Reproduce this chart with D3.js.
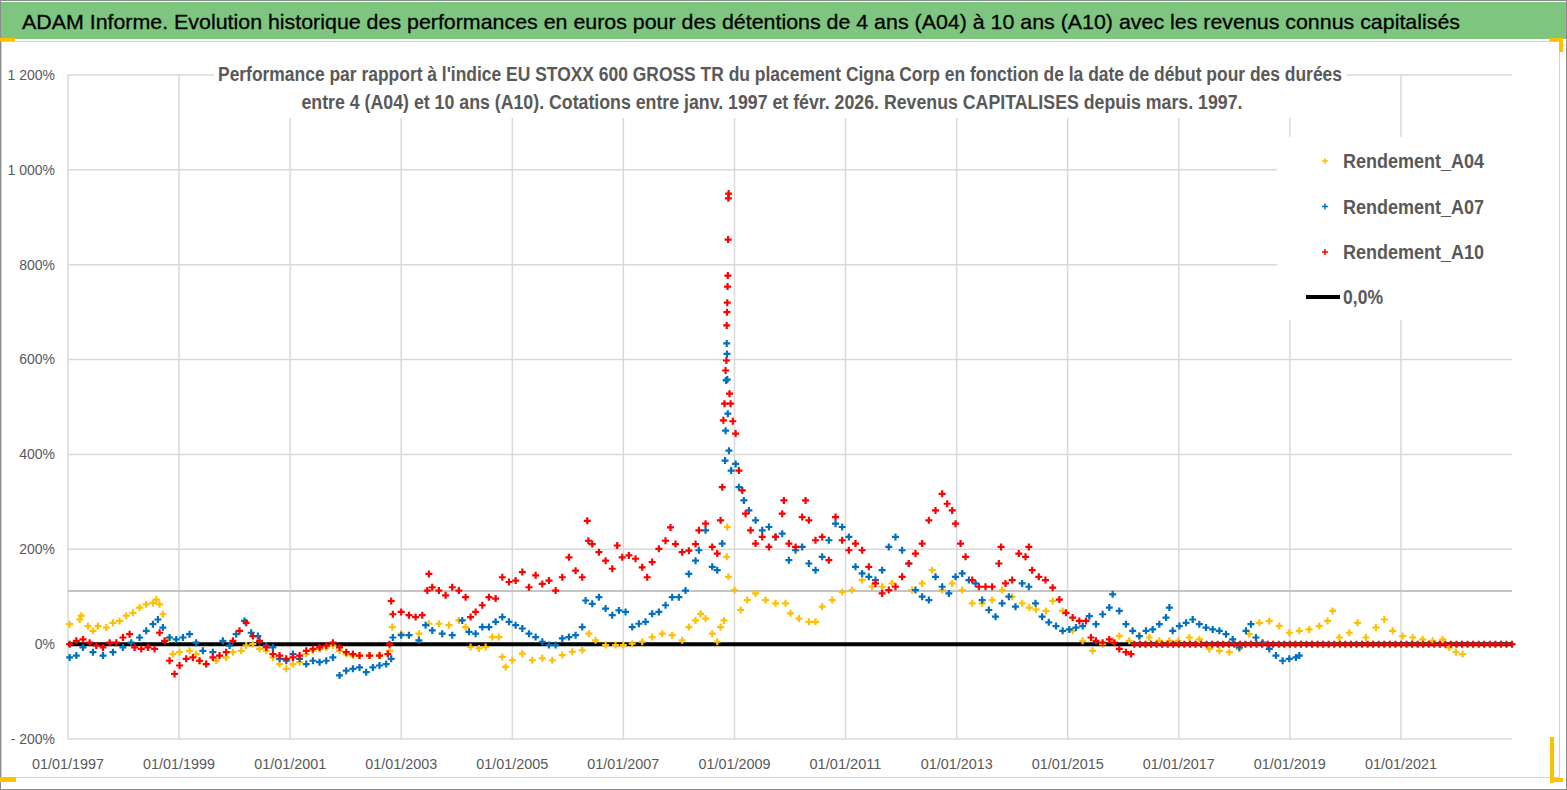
<!DOCTYPE html>
<html>
<head>
<meta charset="utf-8">
<script src="https://cdn.jsdelivr.net/npm/d3@7"></script>
<style>
body { margin: 0; background: #fff; }
text { font-family: "Liberation Sans", "DejaVu Sans", sans-serif; }
</style>
</head>
<body>
<svg id="chart" width="1567" height="790"></svg>
<script>
const TITLE = "ADAM Informe. Evolution historique des performances en euros pour des détentions de 4 ans (A04) à 10 ans (A10) avec les revenus connus capitalisés";
const SUBTITLE = [
    "Performance par rapport à l'indice EU STOXX 600 GROSS TR  du placement Cigna Corp en fonction de la date de début pour des durées",
    "entre 4 (A04) et 10 ans (A10). Cotations entre janv. 1997 et févr. 2026. Revenus CAPITALISES depuis mars. 1997."
];
const seriesNames = ["Rendement_A04", "Rendement_A07", "Rendement_A10"];
const zeroName = "0,0%";
const xTickYears = [1997, 1999, 2001, 2003, 2005, 2007, 2009, 2011, 2013, 2015, 2017, 2019, 2021];
const yTicks = [-200, 0, 200, 400, 600, 800, 1000, 1200];
const refLevel = [112];
const zeroLine = [[1997.0, 0], [2023.0, 0]];

// [année décimale, performance %]
const a04 = [
    [1997.03, 42], [1997.21, 52], [1997.24, 60], [1997.36, 38], [1997.45, 28], [1997.54, 38], [1997.69, 35],
    [1997.81, 45], [1997.93, 49], [1998.05, 60], [1998.17, 66], [1998.29, 77], [1998.41, 84], [1998.53, 87],
    [1998.59, 94], [1998.65, 84], [1998.71, 63], [1998.8, 10], [1998.89, -21], [1999.01, -17], [1999.19, -14],
    [1999.31, -21], [1999.37, -35], [1999.49, -42], [1999.67, -35], [1999.85, -28], [1999.97, -17], [2000.12, -14],
    [2000.21, -3], [2000.33, 0], [2000.45, -10], [2000.57, -14], [2000.69, -28], [2000.81, -42], [2000.93, -52],
    [2001.05, -42], [2001.17, -38], [2001.29, -21], [2001.41, -14], [2001.53, -10], [2001.65, -7], [2001.77, -3],
    [2001.89, -14], [2002.01, -21], [2002.13, -24], [2002.25, -24], [2002.43, -24], [2002.61, -24], [2002.79, -14],
    [2002.84, 36], [2003.0, 22], [2003.14, 19], [2003.32, 22], [2003.5, 43], [2003.68, 43], [2003.86, 40],
    [2004.04, 50], [2004.16, 36], [2004.25, -6], [2004.4, -9], [2004.52, -6], [2004.64, 15], [2004.76, 15],
    [2004.82, -27], [2004.88, -48], [2005.0, -34], [2005.18, -20], [2005.36, -34], [2005.54, -30], [2005.72, -34],
    [2005.9, -23], [2006.08, -16], [2006.26, -13], [2006.38, 22], [2006.5, 8], [2006.68, -2], [2006.86, -2],
    [2007.0, -2], [2007.16, 1], [2007.34, 5], [2007.52, 15], [2007.7, 22], [2007.88, 19], [2008.06, 8],
    [2008.18, 36], [2008.3, 50], [2008.39, 64], [2008.48, 54], [2008.6, 22], [2008.69, 5], [2008.75, 36],
    [2008.81, 50], [2008.86, 184], [2008.87, 247], [2008.89, 142], [2009.0, 114], [2009.11, 72], [2009.23, 93],
    [2009.38, 107], [2009.56, 93], [2009.74, 86], [2009.92, 86], [2010.01, 65], [2010.16, 54], [2010.34, 47],
    [2010.46, 47], [2010.58, 79], [2010.76, 93], [2010.94, 110], [2011.12, 114], [2011.3, 135], [2011.48, 121],
    [2011.66, 121], [2011.84, 128], [2012.02, 142], [2012.2, 114], [2012.38, 128], [2012.56, 156], [2012.74, 114],
    [2012.92, 128], [2013.1, 114], [2013.28, 86], [2013.46, 86], [2013.64, 93], [2013.82, 114], [2014.0, 100],
    [2014.18, 86], [2014.31, 77], [2014.43, 73], [2014.61, 70], [2014.73, 91], [2014.91, 70], [2015.09, 28],
    [2015.27, 7], [2015.45, -14], [2015.63, 0], [2015.81, 7], [2015.93, 17], [2016.11, 7], [2016.29, 17],
    [2016.47, 14], [2016.65, 7], [2016.83, 7], [2016.99, 7], [2017.19, 14], [2017.37, 10], [2017.55, -10],
    [2017.73, -14], [2017.91, -17], [2018.09, -10], [2018.27, 21], [2018.45, 45], [2018.63, 49], [2018.81, 38],
    [2018.99, 24], [2019.17, 28], [2019.35, 31], [2019.53, 38], [2019.68, 49], [2019.77, 70], [2019.89, 14],
    [2020.07, 24], [2020.22, 45], [2020.37, 14], [2020.55, 35], [2020.7, 52], [2020.85, 28], [2021.03, 17],
    [2021.21, 14], [2021.39, 10], [2021.57, 7], [2021.75, 10], [2021.87, -7], [2021.99, -17], [2022.11, -21]
];

const a07 = [
    [1997.03, -28], [1997.15, -24], [1997.27, -7], [1997.45, -17], [1997.63, -24], [1997.81, -17], [1997.99, -7],
    [1998.14, 3], [1998.29, 14], [1998.41, 28], [1998.53, 42], [1998.62, 52], [1998.71, 35], [1998.83, 14],
    [1998.95, 10], [1999.07, 14], [1999.19, 21], [1999.31, 3], [1999.43, -14], [1999.61, -17], [1999.79, 7],
    [1999.91, -3], [2000.03, 21], [2000.18, 49], [2000.3, 24], [2000.42, 17], [2000.57, -3], [2000.69, -7],
    [2000.81, -31], [2000.93, -35], [2001.05, -21], [2001.17, -31], [2001.29, -42], [2001.41, -35], [2001.53, -38],
    [2001.65, -35], [2001.77, -28], [2001.89, -66], [2002.01, -56], [2002.13, -52], [2002.25, -49], [2002.37, -59],
    [2002.49, -49], [2002.61, -45], [2002.73, -42], [2002.82, -31], [2002.85, 14], [2003.0, 19], [2003.14, 19],
    [2003.32, 8], [2003.44, 40], [2003.56, 29], [2003.74, 22], [2003.92, 19], [2004.1, 50], [2004.22, 26],
    [2004.34, 22], [2004.46, 36], [2004.58, 36], [2004.7, 47], [2004.82, 57], [2004.94, 47], [2005.06, 40],
    [2005.18, 33], [2005.3, 22], [2005.42, 15], [2005.54, 5], [2005.66, -2], [2005.78, -2], [2005.9, 12],
    [2006.02, 15], [2006.14, 19], [2006.26, 36], [2006.32, 92], [2006.44, 85], [2006.56, 99], [2006.68, 75],
    [2006.8, 61], [2006.92, 71], [2007.04, 68], [2007.16, 36], [2007.28, 43], [2007.4, 47], [2007.52, 64],
    [2007.64, 68], [2007.76, 82], [2007.88, 99], [2008.0, 99], [2008.12, 113], [2008.18, 148], [2008.3, 176],
    [2008.36, 198], [2008.48, 240], [2008.6, 163], [2008.69, 156], [2008.78, 212], [2008.83, 387], [2008.84, 450],
    [2008.85, 556], [2008.86, 634], [2008.865, 612], [2008.87, 558], [2008.88, 486], [2008.9, 408], [2008.94, 366],
    [2009.02, 380], [2009.08, 331], [2009.17, 303], [2009.26, 282], [2009.38, 261], [2009.5, 240], [2009.62, 247],
    [2009.74, 226], [2009.86, 233], [2009.98, 177], [2010.1, 198], [2010.22, 205], [2010.34, 170], [2010.46, 156],
    [2010.58, 184], [2010.7, 219], [2010.82, 254], [2010.94, 247], [2011.06, 226], [2011.18, 163], [2011.3, 149],
    [2011.42, 142], [2011.54, 135], [2011.66, 156], [2011.78, 205], [2011.9, 226], [2012.02, 198], [2012.14, 170],
    [2012.26, 114], [2012.38, 100], [2012.5, 93], [2012.62, 142], [2012.74, 121], [2012.86, 107], [2012.98, 142],
    [2013.1, 149], [2013.22, 135], [2013.34, 128], [2013.46, 93], [2013.58, 72], [2013.7, 58], [2013.82, 86],
    [2013.94, 100], [2014.06, 79], [2014.18, 128], [2014.3, 121], [2014.42, 86], [2014.54, 58], [2014.66, 46],
    [2014.79, 38], [2014.91, 28], [2015.03, 31], [2015.15, 35], [2015.27, 38], [2015.39, 59], [2015.51, 42],
    [2015.63, 63], [2015.75, 77], [2015.81, 105], [2015.93, 70], [2016.05, 42], [2016.17, 28], [2016.29, 17],
    [2016.41, 28], [2016.53, 31], [2016.65, 42], [2016.77, 56], [2016.83, 77], [2016.89, 28], [2017.01, 38],
    [2017.13, 45], [2017.25, 52], [2017.37, 42], [2017.49, 35], [2017.61, 31], [2017.73, 28], [2017.85, 21],
    [2017.97, 10], [2018.09, -7], [2018.21, 28], [2018.3, 42], [2018.39, 14], [2018.51, 3], [2018.63, -10],
    [2018.75, -24], [2018.87, -35], [2018.99, -31], [2019.11, -28], [2019.17, -24]
];

const a10 = [
    [1997.03, 0], [1997.15, 7], [1997.27, 10], [1997.39, 3], [1997.51, -3], [1997.63, -7], [1997.75, 3],
    [1997.87, 3], [1997.99, 14], [1998.11, 21], [1998.2, -7], [1998.32, -10], [1998.44, -7], [1998.56, -10],
    [1998.65, 24], [1998.74, 7], [1998.83, -35], [1998.92, -63], [1999.01, -45], [1999.13, -31], [1999.25, -28],
    [1999.37, -35], [1999.49, -42], [1999.61, -28], [1999.73, -24], [1999.85, -17], [1999.97, 7], [2000.09, 28],
    [2000.21, 45], [2000.33, 17], [2000.45, 7], [2000.57, -7], [2000.69, -21], [2000.81, -24], [2000.93, -31],
    [2001.05, -28], [2001.17, -24], [2001.29, -14], [2001.41, -10], [2001.53, -7], [2001.65, -3], [2001.77, 3],
    [2001.89, -7], [2002.01, -17], [2002.13, -21], [2002.25, -24], [2002.43, -24], [2002.61, -24], [2002.76, -21],
    [2002.79, 0], [2002.82, 91], [2002.85, 63], [2003.0, 68], [2003.14, 61], [2003.26, 57], [2003.38, 61],
    [2003.47, 113], [2003.5, 148], [2003.56, 120], [2003.68, 113], [2003.8, 103], [2003.92, 120], [2004.04, 113],
    [2004.16, 99], [2004.25, 57], [2004.34, 68], [2004.46, 82], [2004.58, 99], [2004.7, 96], [2004.82, 141],
    [2004.94, 131], [2005.06, 134], [2005.18, 152], [2005.3, 120], [2005.42, 145], [2005.54, 127], [2005.66, 134],
    [2005.78, 113], [2005.9, 141], [2006.02, 183], [2006.14, 155], [2006.26, 141], [2006.35, 260], [2006.37, 218],
    [2006.44, 211], [2006.56, 194], [2006.68, 176], [2006.8, 159], [2006.89, 208], [2006.98, 183], [2007.1, 187],
    [2007.22, 180], [2007.34, 162], [2007.43, 141], [2007.52, 173], [2007.64, 201], [2007.76, 218], [2007.85, 246],
    [2007.94, 211], [2008.06, 194], [2008.18, 197], [2008.3, 211], [2008.36, 240], [2008.48, 254], [2008.6, 205],
    [2008.69, 191], [2008.75, 261], [2008.78, 331], [2008.8, 472], [2008.82, 507], [2008.84, 577], [2008.855, 598],
    [2008.86, 672], [2008.865, 700], [2008.87, 720], [2008.875, 754], [2008.88, 777], [2008.885, 853], [2008.89, 940],
    [2008.895, 950], [2008.91, 528], [2008.93, 507], [2008.97, 470], [2009.02, 444], [2009.08, 366], [2009.14, 324],
    [2009.2, 275], [2009.29, 240], [2009.38, 212], [2009.5, 226], [2009.62, 205], [2009.74, 226], [2009.86, 275],
    [2009.89, 303], [2009.98, 212], [2010.1, 205], [2010.22, 268], [2010.28, 303], [2010.34, 261], [2010.46, 219],
    [2010.58, 226], [2010.7, 177], [2010.82, 268], [2010.94, 219], [2011.06, 198], [2011.18, 212], [2011.3, 198],
    [2011.42, 163], [2011.54, 128], [2011.66, 107], [2011.78, 114], [2011.9, 121], [2012.02, 142], [2012.14, 170],
    [2012.26, 191], [2012.38, 212], [2012.5, 261], [2012.62, 282], [2012.74, 317], [2012.83, 296], [2012.92, 282],
    [2012.98, 254], [2013.07, 212], [2013.16, 184], [2013.28, 135], [2013.4, 121], [2013.52, 121], [2013.64, 121],
    [2013.76, 170], [2013.8, 205], [2013.88, 128], [2014.0, 135], [2014.12, 191], [2014.24, 184], [2014.3, 205],
    [2014.36, 156], [2014.48, 142], [2014.6, 135], [2014.73, 119], [2014.85, 94], [2014.97, 66], [2015.09, 56],
    [2015.21, 49], [2015.33, 49], [2015.42, 14], [2015.51, 7], [2015.63, 3], [2015.75, 10], [2015.84, 3],
    [2015.93, -10], [2016.05, -17], [2016.14, -21],
    [2016.2, 0], [2016.3, 0], [2016.4, 0], [2016.5, 0], [2016.6, 0], [2016.7, 0], [2016.8, 0], [2016.9, 0],
    [2017.0, 0], [2017.1, 0], [2017.2, 0], [2017.3, 0], [2017.4, 0], [2017.5, 0], [2017.6, 0], [2017.7, 0],
    [2017.8, 0], [2017.9, 0], [2018.0, 0], [2018.1, 0], [2018.2, 0], [2018.3, 0], [2018.4, 0], [2018.5, 0],
    [2018.6, 0], [2018.7, 0], [2018.8, 0], [2018.9, 0], [2019.0, 0], [2019.1, 0], [2019.2, 0], [2019.3, 0],
    [2019.4, 0], [2019.5, 0], [2019.6, 0], [2019.7, 0], [2019.8, 0], [2019.9, 0], [2020.0, 0], [2020.1, 0],
    [2020.2, 0], [2020.3, 0], [2020.4, 0], [2020.5, 0], [2020.6, 0], [2020.7, 0], [2020.8, 0], [2020.9, 0],
    [2021.0, 0], [2021.1, 0], [2021.2, 0], [2021.3, 0], [2021.4, 0], [2021.5, 0], [2021.6, 0], [2021.7, 0],
    [2021.8, 0], [2021.9, 0], [2022.0, 0], [2022.1, 0], [2022.2, 0], [2022.3, 0], [2022.4, 0], [2022.5, 0],
    [2022.6, 0], [2022.7, 0], [2022.8, 0], [2022.9, 0], [2023.0, 0]
];

const COLORS = ["#FFC000", "#0070C0", "#FF0000"];
const TEXT_COR = "#595959";
const GRID_COR = "#d9d9d9";
const PLUS = "M-3.5,0H3.5M0,-3.5V3.5";
const PLUS_SMALL = "M-3,0H3M0,-3V3";

const svg = d3.select("#chart");

function toDate(y) {
    const yr = Math.floor(y);
    const start = Date.UTC(yr, 0, 1), end = Date.UTC(yr + 1, 0, 1);
    return new Date(start + (y - yr) * (end - start));
}

const x = d3.scaleUtc()
    .domain([toDate(1997), toDate(2023)])
    .range([68, 1512]);
const y = d3.scaleLinear()
    .domain([-200, 1200])
    .range([739, 75]);

function fmtPct(v) {
    let s = Math.abs(v).toString();
    if (s.length > 3) s = s.slice(0, s.length - 3) + " " + s.slice(-3);
    return (v < 0 ? "- " : "") + s + "%";
}

function draw_frame() {
    svg.append("rect")
        .attr("x", 0.5).attr("y", 0.5)
        .attr("width", 1566).attr("height", 789)
        .attr("fill", "#fff")
        .attr("stroke", "#8c8c8c");
    svg.append("rect")
        .attr("x", 1).attr("y", 2)
        .attr("width", 1565).attr("height", 37)
        .attr("fill", "#7ec67f");
    svg.append("rect")
        .attr("x", 1.5).attr("y", 41.5)
        .attr("width", 1558).attr("height", 736)
        .attr("fill", "#fff")
        .attr("stroke", "#d0d0d0");
    svg.append("text")
        .text(TITLE)
        .attr("x", 22).attr("y", 29)
        .attr("font-size", 21)
        .attr("textLength", 1438)
        .attr("lengthAdjust", "spacingAndGlyphs")
        .attr("stroke", "#000")
        .attr("stroke-width", 0.3)
        .attr("fill", "#000");
    // poignées de sélection
    const handles = [[0, 38, 15, 3], [1549, 38, 14, 3], [1559, 38, 4, 14], [0, 777, 16, 5], [1550, 737, 4, 46], [1550, 778, 13, 4]];
    handles.forEach(h => {
        svg.append("rect")
            .attr("x", h[0]).attr("y", h[1])
            .attr("width", h[2]).attr("height", h[3])
            .attr("fill", "#FFC000");
    });
}

function draw_grid() {
    const g = svg.append("g");
    g.selectAll(".hg").data(yTicks).enter().append("line")
        .attr("x1", 68).attr("x2", 1512)
        .attr("y1", d => y(d)).attr("y2", d => y(d))
        .attr("stroke", GRID_COR).attr("stroke-width", 1.5);
    g.selectAll(".vg").data(xTickYears).enter().append("line")
        .attr("x1", d => x(toDate(d))).attr("x2", d => x(toDate(d)))
        .attr("y1", y(1200)).attr("y2", y(-200))
        .attr("stroke", GRID_COR).attr("stroke-width", 1.5);
    g.selectAll(".ref").data(refLevel).enter().append("line")
        .attr("x1", 68).attr("x2", 1512)
        .attr("y1", d => y(d)).attr("y2", d => y(d))
        .attr("stroke", "#c4c4c4").attr("stroke-width", 2);

    g.selectAll(".yl").data(yTicks).enter().append("text")
        .text(d => fmtPct(d))
        .attr("x", 55).attr("y", d => y(d))
        .attr("dy", "0.35em")
        .attr("text-anchor", "end")
        .attr("font-size", 14)
        .attr("fill", TEXT_COR);
    g.selectAll(".xl").data(xTickYears).enter().append("text")
        .text(d => d3.utcFormat("%d/%m/%Y")(toDate(d)))
        .attr("x", d => x(toDate(d)) - 36).attr("y", 769)
        .attr("font-size", 15)
        .attr("textLength", 72)
        .attr("lengthAdjust", "spacingAndGlyphs")
        .attr("fill", TEXT_COR);
}

function draw_zero() {
    svg.append("path")
        .datum(zeroLine)
        .attr("d", d3.line().x(d => x(toDate(d[0]))).y(d => y(d[1])))
        .attr("stroke", "#000")
        .attr("stroke-width", 4)
        .attr("fill", "none");
}

function draw_series(data, color) {
    svg.append("g").selectAll("path").data(data).enter().append("path")
        .attr("d", PLUS)
        .attr("transform", d => `translate(${x(toDate(d[0]))},${y(d[1])})`)
        .attr("stroke", color)
        .attr("stroke-width", 2.2)
        .attr("fill", "none");
}

function draw_subtitle() {
    svg.append("rect")
        .attr("x", 214).attr("y", 58)
        .attr("width", 1133).attr("height", 60)
        .attr("fill", "#fff");
    const widths = [1124, 941];
    const centers = [780, 772];
    SUBTITLE.forEach((s, i) => {
        svg.append("text")
            .text(s)
            .attr("x", centers[i] - widths[i] / 2).attr("y", 81 + i * 28)
            .attr("font-size", 20)
            .attr("font-weight", "bold")
            .attr("textLength", widths[i])
            .attr("lengthAdjust", "spacingAndGlyphs")
            .attr("fill", TEXT_COR);
    });
}

function draw_legend() {
    svg.append("rect")
        .attr("x", 1277).attr("y", 137)
        .attr("width", 236).attr("height", 183)
        .attr("fill", "#fff");
    seriesNames.forEach((name, i) => {
        const cy = 161 + i * 45.5;
        svg.append("path")
            .attr("d", PLUS_SMALL)
            .attr("transform", `translate(1325,${cy})`)
            .attr("stroke", COLORS[i])
            .attr("stroke-width", 1.5);
        svg.append("text")
            .text(name)
            .attr("x", 1343).attr("y", cy + 7)
            .attr("font-size", 20)
            .attr("font-weight", "bold")
            .attr("textLength", 141)
            .attr("lengthAdjust", "spacingAndGlyphs")
            .attr("fill", TEXT_COR);
    });
    svg.append("line")
        .attr("x1", 1306).attr("x2", 1340)
        .attr("y1", 297).attr("y2", 297)
        .attr("stroke", "#000").attr("stroke-width", 4);
    svg.append("text")
        .text(zeroName)
        .attr("x", 1343).attr("y", 304)
        .attr("font-size", 20)
        .attr("font-weight", "bold")
        .attr("textLength", 40)
        .attr("lengthAdjust", "spacingAndGlyphs")
        .attr("fill", TEXT_COR);
}

draw_frame();
draw_grid();
draw_zero();
draw_series(a04, COLORS[0]);
draw_series(a07, COLORS[1]);
draw_series(a10, COLORS[2]);
draw_subtitle();
draw_legend();
</script>
</body>
</html>
